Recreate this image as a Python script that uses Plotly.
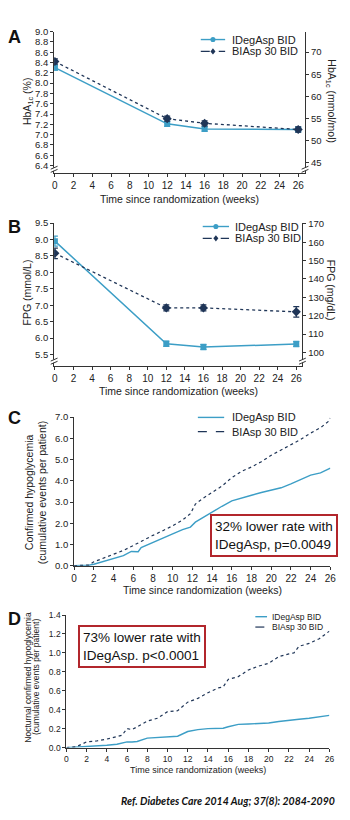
import plotly.graph_objects as go

W, H = 350, 820
TEAL = '#3c9ec6'
NAVY = '#1f3557'
RED = '#b2262c'
AX = '#333333'
FONT = 'Liberation Sans, Arial, sans-serif'

# ---------------- data ----------------
visit_weeks = [0, 12, 16, 26]
hba1c_ideg = [8.30, 7.21, 7.11, 7.10]
hba1c_ideg_se = [0.05, 0.05, 0.04, 0.04]
hba1c_biasp = [8.42, 7.31, 7.22, 7.10]
hba1c_biasp_se = [0.05, 0.05, 0.05, 0.05]

fpg_ideg = [8.95, 5.83, 5.73, 5.82]
fpg_ideg_se = [0.15, 0.08, 0.08, 0.08]
fpg_biasp = [8.58, 6.92, 6.92, 6.80]
fpg_biasp_se = [0.16, 0.09, 0.09, 0.16]

conf_weeks_ideg = [0, 1.5, 2, 3, 4, 5, 5.8, 6.5, 6.8, 8, 9, 10, 11, 11.8, 12.3, 13, 14, 15, 16,
                   17, 18, 19, 20, 21, 22, 23, 24, 25, 26]
conf_ideg = [0, 0.02, 0.07, 0.2, 0.32, 0.47, 0.67, 0.66, 0.85, 1.08, 1.3, 1.5, 1.7, 1.82, 2.05,
             2.25, 2.55, 2.8, 3.05, 3.17, 3.32, 3.45, 3.57, 3.67, 3.85, 4.05, 4.27, 4.37, 4.6]
conf_weeks_biasp = [0, 1.5, 2, 3, 4, 5, 6, 7, 8, 9, 10, 11, 11.8, 12.3, 13, 14, 15, 16, 17, 18,
                    19, 20, 21, 22, 23, 24, 25, 25.8, 26]
conf_biasp = [0, 0.03, 0.18, 0.35, 0.52, 0.72, 0.95, 1.2, 1.43, 1.65, 1.88, 2.15, 2.45, 2.9,
              3.15, 3.45, 3.75, 4.15, 4.45, 4.65, 4.9, 5.2, 5.45, 5.7, 5.95, 6.25, 6.5, 6.8, 6.95]

noct_weeks = [0, 1, 2, 3, 4, 5, 5.5, 6, 6.5, 7, 8, 9, 10, 11, 12, 13, 14, 15, 15.5, 16, 17, 18,
              19, 20, 21, 22, 22.5, 23, 24, 25, 26]
noct_ideg = [0, 0.005, 0.01, 0.02, 0.025, 0.035, 0.045, 0.06, 0.06, 0.065, 0.1, 0.105, 0.11,
             0.12, 0.17, 0.19, 0.2, 0.2, 0.205, 0.22, 0.245, 0.25, 0.252, 0.26, 0.275, 0.29,
             0.292, 0.3, 0.31, 0.325, 0.34]
noct_biasp = [0, 0.01, 0.06, 0.07, 0.09, 0.12, 0.13, 0.2, 0.19, 0.22, 0.28, 0.31, 0.38, 0.39,
              0.48, 0.52, 0.58, 0.63, 0.64, 0.72, 0.75, 0.82, 0.86, 0.89, 0.96, 0.99, 1.0, 1.07,
              1.1, 1.15, 1.23]

x_ticks = list(range(0, 27, 2))
hba1c_ticks = [6.4, 6.6, 6.8, 7.0, 7.2, 7.4, 7.6, 7.8, 8.0, 8.2, 8.4, 8.6, 8.8, 9.0]
hba1c_mmol_ticks = [45, 50, 55, 60, 65, 70]
fpg_ticks = [5.5, 6.0, 6.5, 7.0, 7.5, 8.0, 8.5, 9.0, 9.5]
fpg_mg_ticks = [100, 110, 120, 130, 140, 150, 160, 170]
conf_ticks = [0, 1, 2, 3, 4, 5, 6, 7]
noct_ticks = [0, 0.2, 0.4, 0.6, 0.8, 1.0, 1.2, 1.4]

names = ['IDegAsp BID', 'BIAsp 30 BID']


def fx(p):
    return p / W


def fy(p):
    return 1 - p / H


fig = go.Figure()

# ---- Panel A ----
fig.add_trace(go.Scatter(x=visit_weeks, y=hba1c_ideg, xaxis='x', yaxis='y', mode='lines+markers',
                         line=dict(color=TEAL, width=1.5), marker=dict(color=TEAL, size=6, symbol='square'),
                         error_y=dict(type='data', array=hba1c_ideg_se, color=TEAL, thickness=1.2, width=3),
                         showlegend=False))
fig.add_trace(go.Scatter(x=visit_weeks, y=hba1c_biasp, xaxis='x', yaxis='y', mode='lines+markers',
                         line=dict(color=NAVY, width=1.3, dash='3px,3px'),
                         marker=dict(color=NAVY, size=7, symbol='diamond'),
                         error_y=dict(type='data', array=hba1c_biasp_se, color=NAVY, thickness=1.2, width=3),
                         showlegend=False))
# invisible trace to carry the mmol/mol axis
fig.add_trace(go.Scatter(x=visit_weeks, y=[(v - 2.15) * 10.929 for v in hba1c_ideg], xaxis='x', yaxis='y2',
                         mode='markers', marker=dict(opacity=0), hoverinfo='skip', showlegend=False))

# ---- Panel B ----
fig.add_trace(go.Scatter(x=visit_weeks, y=fpg_ideg, xaxis='x2', yaxis='y3', mode='lines+markers',
                         line=dict(color=TEAL, width=1.5), marker=dict(color=TEAL, size=6, symbol='square'),
                         error_y=dict(type='data', array=fpg_ideg_se, color=TEAL, thickness=1.2, width=3),
                         showlegend=False))
fig.add_trace(go.Scatter(x=visit_weeks, y=fpg_biasp, xaxis='x2', yaxis='y3', mode='lines+markers',
                         line=dict(color=NAVY, width=1.3, dash='3px,3px'),
                         marker=dict(color=NAVY, size=7, symbol='diamond'),
                         error_y=dict(type='data', array=fpg_biasp_se, color=NAVY, thickness=1.2, width=3),
                         showlegend=False))
fig.add_trace(go.Scatter(x=visit_weeks, y=[v * 18.0 for v in fpg_ideg], xaxis='x2', yaxis='y4',
                         mode='markers', marker=dict(opacity=0), hoverinfo='skip', showlegend=False))

# ---- Panel C ----
fig.add_trace(go.Scatter(x=conf_weeks_ideg, y=conf_ideg, xaxis='x3', yaxis='y5', mode='lines',
                         line=dict(color=TEAL, width=1.4), showlegend=False))
fig.add_trace(go.Scatter(x=conf_weeks_biasp, y=conf_biasp, xaxis='x3', yaxis='y5', mode='lines',
                         line=dict(color=NAVY, width=1.2, dash='3px,3px'), showlegend=False))

# ---- Panel D ----
fig.add_trace(go.Scatter(x=noct_weeks, y=noct_ideg, xaxis='x4', yaxis='y6', mode='lines',
                         line=dict(color=TEAL, width=1.4), showlegend=False))
fig.add_trace(go.Scatter(x=noct_weeks, y=noct_biasp, xaxis='x4', yaxis='y6', mode='lines',
                         line=dict(color=NAVY, width=1.2, dash='3px,3px'), showlegend=False))


def axis(domain, rng, tickvals, fmt=None, size=10, anchor=None, side=None, overlaying=None):
    d = dict(domain=domain, range=rng, tickvals=tickvals, showline=True, linecolor=AX, linewidth=1,
             ticks='outside', ticklen=3, tickwidth=1, tickcolor=AX, showgrid=False, zeroline=False,
             tickfont=dict(family=FONT, size=size, color='#222'), fixedrange=True)
    if fmt:
        d['tickformat'] = fmt
    if anchor:
        d['anchor'] = anchor
    if side:
        d['side'] = side
    if overlaying:
        d['overlaying'] = overlaying
    return d


A_top, A_bot = 26, 169
B_top, B_bot = 220, 365
C_top, C_bot = 416.7, 567.3
D_top, D_bot = 617.3, 751.7

fig.update_layout(
    width=W, height=H, margin=dict(l=0, r=0, t=0, b=0),
    paper_bgcolor='white', plot_bgcolor='white', showlegend=False,
    font=dict(family=FONT, color='#222'),
    xaxis=axis([fx(52.5), fx(310)], [-0.08, 26.73], x_ticks, anchor='y'),
    yaxis=axis([fy(A_bot), fy(A_top)], [6.26, 9.0], hba1c_ticks, '.1f', size=9.5, anchor='x'),
    yaxis2=axis([fy(A_bot), fy(A_top)], [42.8, 74.6], hba1c_mmol_ticks, size=9.5, anchor='x', side='right',
                overlaying='y'),
    xaxis2=axis([fx(52.5), fx(307.3)], [-0.08, 26.66], x_ticks, anchor='y3'),
    yaxis3=axis([fy(B_bot), fy(B_top)], [5.15, 9.5], fpg_ticks, '.1f', size=9.5, anchor='x2'),
    yaxis4=axis([fy(B_bot), fy(B_top)], [92.5, 170.5], fpg_mg_ticks, size=9.5, anchor='x2', side='right',
                overlaying='y3'),
    xaxis3=axis([fx(73), fx(336)], [0, 26], x_ticks, anchor='y5'),
    yaxis5=axis([fy(C_bot), fy(C_top)], [0, 7], conf_ticks, '.1f', size=9.5, anchor='x3'),
    xaxis4=axis([fx(65), fx(335)], [0, 26], x_ticks, size=8.5, anchor='y6'),
    yaxis6=axis([fy(D_bot), fy(D_top)], [0, 1.4], noct_ticks, '.1f', size=8.5, anchor='x4'),
)

ann = []


def text(x, y, s, size=11, angle=0, xanchor='center', yanchor='middle', **kw):
    f = dict(family=kw.pop('family', FONT), size=size, color=kw.pop('color', '#222'))
    if 'weight' in kw:
        f['weight'] = kw.pop('weight')
    if 'style' in kw:
        f['style'] = kw.pop('style')
    ann.append(dict(x=fx(x), y=fy(y), xref='paper', yref='paper', text=s, showarrow=False,
                    textangle=angle, xanchor=xanchor, yanchor=yanchor, font=f, **kw))


# panel letters
for lab, yy in [('A', 31), ('B', 224), ('C', 418), ('D', 621)]:
    text(3, yy, lab, size=18, xanchor='left', weight='bold', color='#111')

# axis titles
xt = 'Time since randomization (weeks)'
text(181, 196, xt, size=10.5)
text(180, 390, xt, size=10.5)
text(205, 592, xt, size=10.5)
text(200, 774, xt, size=9)
text(25, 97, 'HbA<sub>1c</sub> (%)', size=10.5, angle=-90)
text(337, 97, 'HbA<sub>1c</sub> (mmol/mol)', size=10.5, angle=90)
text(25, 290, 'FPG (mmol/L)', size=10.5, angle=-90)
text(337, 288, 'FPG (mg/dL)', size=10.5, angle=90)
text(27.5, 493, 'Confirmed hypoglycemia', size=10.5, angle=-90)
text(40, 493, '(cumulative events per patient)', size=10.5, angle=-90)
text(25.5, 680, 'Nocturnal confirmed hypoglycemia', size=8.5, angle=-90)
text(34, 680, '(cumulative events per patient)', size=8.5, angle=-90)

# boxes
ann.append(dict(x=fx(278), y=fy(536.5), xref='paper', yref='paper', showarrow=False,
                text='32% lower rate with<br>IDegAsp, p=0.0049', align='left',
                font=dict(family=FONT, size=13.5, color='#111'), bordercolor=RED, borderwidth=2,
                borderpad=3, bgcolor='white', xanchor='center', yanchor='middle'))
ann.append(dict(x=fx(143), y=fy(649), xref='paper', yref='paper', showarrow=False,
                text='73% lower rate with<br>IDegAsp. p<0.0001', align='left',
                font=dict(family=FONT, size=13.5, color='#111'), bordercolor=RED, borderwidth=2,
                borderpad=3, bgcolor='white', xanchor='center', yanchor='middle'))

# reference
text(343, 806, 'Ref. Diabetes Care 2014 Aug; 37(8): 2084-2090', size=10.5, xanchor='right',
     family='Lato, sans-serif', weight='bold', style='italic', color='#111')

shapes = []


def legend(x0, x1, xt_, ys, size, markers):
    for i, (nm, yy) in enumerate(zip(names, ys)):
        col = TEAL if i == 0 else NAVY
        dash = 'solid' if i == 0 else 'dash'
        shapes.append(dict(type='line', xref='paper', yref='paper', x0=fx(x0), x1=fx(x1), y0=fy(yy), y1=fy(yy),
                           line=dict(color=col, width=1.4 if i == 0 else 1.2, dash=dash)))
        if markers:
            cx = (x0 + x1) / 2
            if i == 0:
                shapes.append(dict(type='circle', xref='paper', yref='paper', x0=fx(cx - 2.6), x1=fx(cx + 2.6),
                                   y0=fy(yy + 2.6), y1=fy(yy - 2.6), fillcolor=col, line=dict(width=0)))
            else:
                r = 3.2
                shapes.append(dict(type='path', xref='paper', yref='paper',
                                   path=f'M {fx(cx)},{fy(yy - r)} L {fx(cx + r * 0.8)},{fy(yy)} '
                                        f'L {fx(cx)},{fy(yy + r)} L {fx(cx - r * 0.8)},{fy(yy)} Z',
                                   fillcolor=col, line=dict(width=0)))
        text(xt_, yy, nm, size=size, xanchor='left')


legend(203, 228, 233, [34, 46], 11, True)
legend(205, 232, 236, [223.5, 235.5], 11, True)
legend(200, 227, 233, [417, 431.5], 11, False)
legend(259, 271, 274, [619, 629.5], 8.5, False)


def brk(xp, yp):
    shapes.append(dict(type='rect', xref='paper', yref='paper', x0=fx(xp - 3), x1=fx(xp + 3),
                       y0=fy(yp + 1.6), y1=fy(yp - 1.6), fillcolor='white', line=dict(width=0)))
    for d in (-1.6, 1.6):
        shapes.append(dict(type='line', xref='paper', yref='paper', x0=fx(xp - 3.5), x1=fx(xp + 3.5),
                           y0=fy(yp + d + 1.5), y1=fy(yp + d - 1.5), line=dict(color=AX, width=1)))


brk(52.5, 165.5)
brk(310, 165.5)
brk(52.5, 360)
brk(307.3, 360)

fig.update_layout(annotations=ann, shapes=shapes)
fig.write_html('out.html')
